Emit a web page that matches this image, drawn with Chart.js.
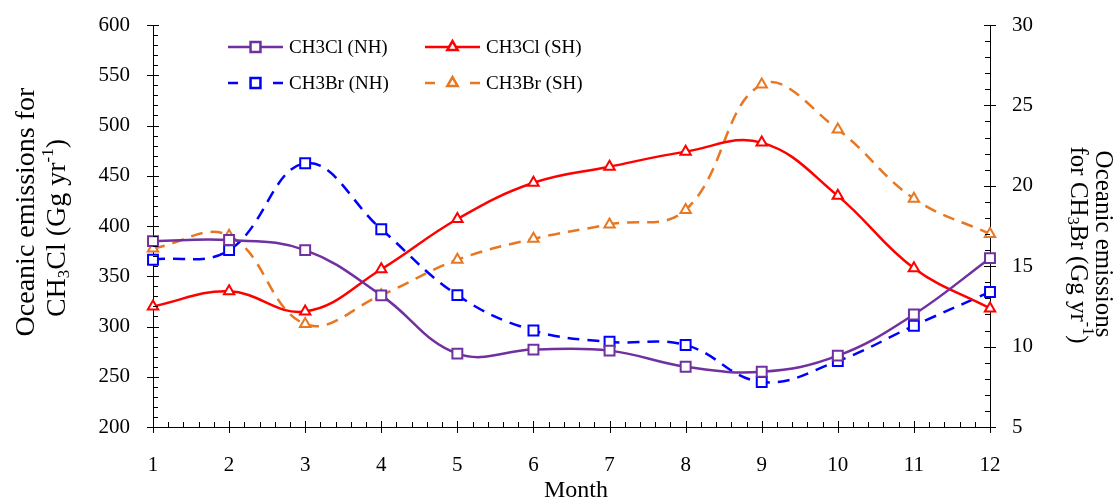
<!DOCTYPE html>
<html>
<head>
<meta charset="utf-8">
<script src="https://cdn.jsdelivr.net/npm/chart.js@4.4.1/dist/chart.umd.min.js"></script>
<style>
  html, body { margin: 0; padding: 0; background: #fff; }
  #wrap { width: 1120px; height: 504px; }
</style>
</head>
<body>
<div id="wrap"><canvas id="c" width="1120" height="504"></canvas></div>
<script>
// monthly oceanic emissions
const months = ['1', '2', '3', '4', '5', '6', '7', '8', '9', '10', '11', '12'];
const ch3clNH = [385, 386, 376, 331, 273, 277, 276, 260, 255, 271, 312, 368];
const ch3clSH = [320, 335, 315, 357, 407, 443, 459, 474, 483, 430, 358, 318];
const ch3brNH = [15.4, 16.0, 21.4, 17.3, 13.2, 11.0, 10.3, 10.1, 7.8, 9.1, 11.3, 13.4];
const ch3brSH = [16.1, 16.9, 11.4, 13.2, 15.4, 16.7, 17.6, 18.5, 26.3, 23.5, 19.2, 17.0];
const leftTicks = [200, 250, 300, 350, 400, 450, 500, 550, 600];
const rightTicks = [5, 10, 15, 20, 25, 30];

const SERIF = '"Liberation Serif", "Times New Roman", serif';

function makeSet(label, data, color, style, axis, dashed) {
  return {
    label: label,
    data: data,
    yAxisID: axis,
    borderColor: color,
    backgroundColor: color,
    borderWidth: 2.5,
    borderDash: dashed ? [12, 8] : [],
    tension: 0.4,
    pointStyle: style,
    pointRadius: style === 'rect' ? 7 : 6,
    pointBorderWidth: 2,
    pointBorderColor: color,
    pointBackgroundColor: '#fff',
    clip: false
  };
}

// tick marks: major ticks cross the axis, minor ones point inwards
const tickMarks = {
  id: 'tickMarks',
  afterDraw(chart) {
    const ctx = chart.ctx;
    const x = chart.scales.x, y = chart.scales.y, y1 = chart.scales.y1;
    const a = chart.chartArea;
    ctx.save();
    ctx.strokeStyle = '#000';
    ctx.lineWidth = 1;
    ctx.beginPath();
    for (let v = 200; v <= 600; v += 10) {
      const py = Math.round(y.getPixelForValue(v)) + 0.5;
      if (v % 50 === 0) { ctx.moveTo(a.left - 6, py); ctx.lineTo(a.left + 6, py); }
      else { ctx.moveTo(a.left, py); ctx.lineTo(a.left + 5, py); }
    }
    for (let v = 5; v <= 30; v += 1) {
      const py = Math.round(y1.getPixelForValue(v)) + 0.5;
      if (v % 5 === 0) { ctx.moveTo(a.right - 6, py); ctx.lineTo(a.right + 6, py); }
      else { ctx.moveTo(a.right - 5, py); ctx.lineTo(a.right, py); }
    }
    for (let i = 0; i < months.length; i++) {
      const p0 = x.getPixelForValue(i);
      const px = Math.round(p0) + 0.5;
      ctx.moveTo(px, a.bottom - 6); ctx.lineTo(px, a.bottom + 6);
      if (i < months.length - 1) {
        const p1 = x.getPixelForValue(i + 1);
        for (let k = 1; k < 5; k++) {
          const m = Math.round(p0 + (p1 - p0) * k / 5) + 0.5;
          ctx.moveTo(m, a.bottom - 5); ctx.lineTo(m, a.bottom);
        }
      }
    }
    ctx.stroke();
    ctx.restore();
  }
};

// draw a line of text made of parts, some sub/superscripted
function richText(ctx, parts, size, x, y, align) {
  const small = Math.round(size * 0.62);
  let total = 0;
  parts.forEach(p => {
    ctx.font = (p.s ? small : size) + 'px ' + SERIF;
    p.w = ctx.measureText(p.t).width;
    total += p.w;
  });
  let cx = align === 'center' ? x - total / 2 : x;
  parts.forEach(p => {
    ctx.font = (p.s ? small : size) + 'px ' + SERIF;
    let dy = 0;
    if (p.s === 'sub') dy = size * 0.22;
    if (p.s === 'sup') dy = -size * 0.35;
    ctx.fillText(p.t, cx, y + dy);
    cx += p.w;
  });
}

const titles = {
  id: 'titles',
  afterDraw(chart) {
    const ctx = chart.ctx;
    ctx.save();
    ctx.fillStyle = '#000';
    ctx.textBaseline = 'middle';
    ctx.textAlign = 'left';

    // left axis title
    ctx.save();
    ctx.translate(27, 212);
    ctx.rotate(-Math.PI / 2);
    richText(ctx, [{ t: 'Oceanic emissions for' }], 28, 0, 0, 'center');
    ctx.restore();
    ctx.save();
    ctx.translate(58, 228);
    ctx.rotate(-Math.PI / 2);
    richText(ctx, [{ t: 'CH' }, { t: '3', s: 'sub' }, { t: 'Cl (Gg yr' }, { t: '-1', s: 'sup' }, { t: ')' }], 28, 0, 0, 'center');
    ctx.restore();

    // right axis title
    ctx.save();
    ctx.translate(1103, 244);
    ctx.rotate(Math.PI / 2);
    richText(ctx, [{ t: 'Oceanic emissions' }], 25, 0, 0, 'center');
    ctx.restore();
    ctx.save();
    ctx.translate(1078, 245);
    ctx.rotate(Math.PI / 2);
    richText(ctx, [{ t: 'for CH' }, { t: '3', s: 'sub' }, { t: 'Br (Gg yr' }, { t: '-1', s: 'sup' }, { t: ')' }], 25, 0, 0, 'center');
    ctx.restore();

    // x axis title
    ctx.textAlign = 'center';
    ctx.font = '24px ' + SERIF;
    ctx.fillText('Month', 576, 491);
    ctx.restore();
  }
};

// 2x2 legend inside the plot
const legendBox = {
  id: 'legendBox',
  afterDraw(chart) {
    const ctx = chart.ctx;
    const spots = [[228, 47], [425, 47], [228, 83], [425, 83]];
    ctx.save();
    chart.data.datasets.forEach((ds, i) => {
      const [lx, ly] = spots[i];
      ctx.strokeStyle = ds.borderColor;
      ctx.lineWidth = 2.5;
      ctx.setLineDash([]);
      ctx.beginPath();
      if (ds.borderDash.length) {
        ctx.moveTo(lx, ly); ctx.lineTo(lx + 10, ly);
        ctx.moveTo(lx + 45, ly); ctx.lineTo(lx + 55, ly);
      } else {
        ctx.moveTo(lx, ly); ctx.lineTo(lx + 55, ly);
      }
      ctx.stroke();
      ctx.fillStyle = '#fff';
      Chart.helpers.drawPoint(ctx, {
        pointStyle: ds.pointStyle, radius: ds.pointRadius, borderWidth: 2, rotation: 0
      }, lx + 27.5, ly);
      ctx.fillStyle = '#000';
      ctx.font = '19px ' + SERIF;
      ctx.textBaseline = 'middle';
      ctx.textAlign = 'left';
      ctx.fillText(ds.label, lx + 61, ly + 1);
    });
    ctx.restore();
  }
};

// invisible tick space keeps labels away from the axis without adding top padding
function gapGrid(len) {
  return { display: true, drawOnChartArea: false, drawTicks: true, tickLength: len, tickColor: 'rgba(0,0,0,0)' };
}

new Chart(document.getElementById('c'), {
  type: 'line',
  data: {
    labels: months,
    datasets: [
      makeSet('CH3Cl (NH)', ch3clNH, '#7030A0', 'rect', 'y', false),
      makeSet('CH3Cl (SH)', ch3clSH, '#FF0000', 'triangle', 'y', false),
      makeSet('CH3Br (NH)', ch3brNH, '#0000FF', 'rect', 'y1', true),
      makeSet('CH3Br (SH)', ch3brSH, '#E87722', 'triangle', 'y1', true)
    ]
  },
  options: {
    responsive: false,
    animation: false,
    layout: { padding: { top: 25, left: 0, right: 0, bottom: 0 } },
    plugins: { legend: { display: false }, tooltip: { enabled: false } },
    scales: {
      x: {
        offset: false,
        grid: { display: false },
        border: { display: true, color: '#000', width: 1 },
        ticks: { color: '#000', font: { family: SERIF, size: 21 }, padding: 18, maxRotation: 0, autoSkip: false },
        afterFit: s => { s.height = 77; }
      },
      y: {
        position: 'left',
        min: 200, max: 600,
        grid: gapGrid(23),
        border: { display: true, color: '#000', width: 1 },
        afterBuildTicks: s => { s.ticks = leftTicks.map(v => ({ value: v })); },
        ticks: { color: '#000', font: { family: SERIF, size: 21 }, padding: 0 },
        afterFit: s => { s.width = 153; }
      },
      y1: {
        position: 'right',
        min: 5, max: 30,
        grid: gapGrid(22),
        border: { display: true, color: '#000', width: 1 },
        afterBuildTicks: s => { s.ticks = rightTicks.map(v => ({ value: v })); },
        ticks: { color: '#000', font: { family: SERIF, size: 21 }, padding: 0 },
        afterFit: s => { s.width = 130; }
      }
    }
  },
  plugins: [tickMarks, titles, legendBox]
});
</script>
</body>
</html>
